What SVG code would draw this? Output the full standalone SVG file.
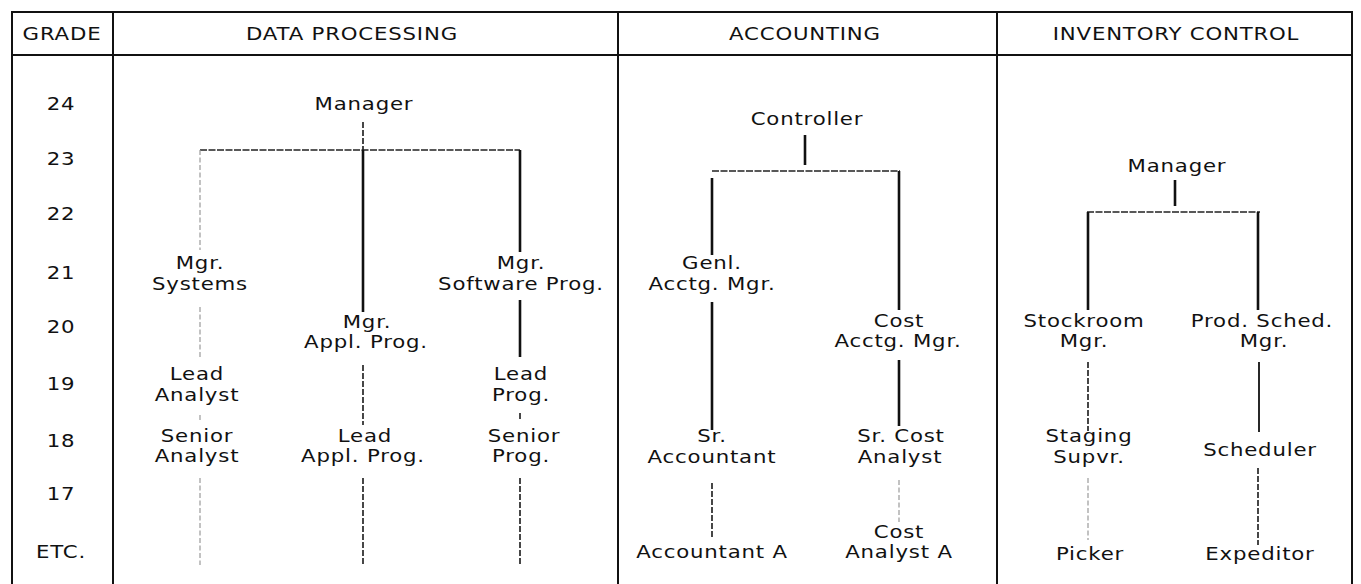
<svg xmlns="http://www.w3.org/2000/svg" width="1361" height="584" viewBox="0 0 1361 584">
<style>
text{font-family:"DejaVu Sans","Liberation Sans",sans-serif;font-size:18.5px;letter-spacing:0.7px;fill:#111;text-anchor:middle}
.frame{stroke:#111;stroke-width:2;fill:none}
.solid{stroke:#111;stroke-width:2.6;fill:none}
.bar{stroke:#222;stroke-width:1.6;stroke-dasharray:7 1.5;fill:none}
.dark{stroke:#333;stroke-width:1.8;stroke-dasharray:6 2;fill:none}
.faint{stroke:#9a9a9a;stroke-width:1.2;stroke-dasharray:5 2.5;fill:none}
</style>
<rect width="1361" height="584" fill="#fff"/>
<g id="frame">
<path class="frame" d="M12,584 V12 H1352 V584 M12,55 H1352 M113,12 V584 M618,12 V584 M997,12 V584"/>
</g>
<g id="headers" transform="scale(1.15 1)">
<text x="53.91" y="40">GRADE</text>
<text x="306.09" y="40">DATA PROCESSING</text>
<text x="700" y="40">ACCOUNTING</text>
<text x="1022.61" y="40">INVENTORY CONTROL</text>
</g>
<g id="grades" transform="scale(1.15 1)">
<text x="53.04" y="110">24</text>
<text x="53.04" y="165">23</text>
<text x="53.04" y="220">22</text>
<text x="53.04" y="279">21</text>
<text x="53.04" y="333">20</text>
<text x="53.04" y="390">19</text>
<text x="53.04" y="447">18</text>
<text x="53.04" y="500">17</text>
<text x="53.04" y="558">ETC.</text>
</g>
<g id="connectors">
<line class="dark" x1="363" y1="122" x2="363" y2="150"/>
<line class="bar" x1="200" y1="150" x2="520" y2="150"/>
<line class="faint" x1="200" y1="150" x2="200" y2="250"/>
<line class="solid" x1="363" y1="150" x2="363" y2="312"/>
<line class="solid" x1="520" y1="150" x2="520" y2="252"/>
<line class="faint" x1="200" y1="307" x2="200" y2="359"/>
<line class="dark" x1="363" y1="365" x2="363" y2="425"/>
<line class="solid" x1="520" y1="300" x2="520" y2="357"/>
<line class="faint" x1="200" y1="415" x2="200" y2="421"/>
<line class="dark" x1="520" y1="413" x2="520" y2="420"/>
<line class="faint" x1="200" y1="478" x2="200" y2="565"/>
<line class="dark" x1="363" y1="478" x2="363" y2="566"/>
<line class="dark" x1="520" y1="478" x2="520" y2="566"/>
<line class="solid" x1="805" y1="135" x2="805" y2="165"/>
<line class="bar" x1="712" y1="171" x2="900" y2="171"/>
<line class="solid" x1="712" y1="178" x2="712" y2="255"/>
<line class="solid" x1="899" y1="171" x2="899" y2="310"/>
<line class="solid" x1="712" y1="302" x2="712" y2="430"/>
<line class="solid" x1="899" y1="360" x2="899" y2="426"/>
<line class="dark" x1="712" y1="483" x2="712" y2="537"/>
<line class="faint" x1="899" y1="480" x2="899" y2="522"/>
<line class="solid" x1="1175" y1="180" x2="1175" y2="206"/>
<line class="bar" x1="1087" y1="212" x2="1260" y2="212"/>
<line class="solid" x1="1088" y1="212" x2="1088" y2="310"/>
<line class="solid" x1="1258" y1="212" x2="1258" y2="310"/>
<line class="dark" x1="1088" y1="362" x2="1088" y2="431"/>
<line class="solid" x1="1259" y1="362" x2="1259" y2="432" style="stroke-width:1.8"/>
<line class="faint" x1="1088" y1="478" x2="1088" y2="540"/>
<line class="dark" x1="1258" y1="468" x2="1258" y2="545"/>
</g>
<g id="dp-manager" transform="scale(1.15 1)"><text x="316.52" y="110">Manager</text></g>
<g id="dp-mgr-systems" transform="scale(1.15 1)"><text x="173.91" y="269">Mgr.</text><text x="173.91" y="290">Systems</text></g>
<g id="dp-mgr-appl-prog" transform="scale(1.15 1)"><text x="319.13" y="328">Mgr.</text><text x="318.26" y="348">Appl. Prog.</text></g>
<g id="dp-mgr-software-prog" transform="scale(1.15 1)"><text x="453.04" y="269">Mgr.</text><text x="453.04" y="290">Software Prog.</text></g>
<g id="dp-lead-analyst" transform="scale(1.15 1)"><text x="171.30" y="380">Lead</text><text x="171.30" y="401">Analyst</text></g>
<g id="dp-lead-prog" transform="scale(1.15 1)"><text x="453.04" y="380">Lead</text><text x="453.04" y="401">Prog.</text></g>
<g id="dp-senior-analyst" transform="scale(1.15 1)"><text x="171.30" y="442">Senior</text><text x="171.30" y="462">Analyst</text></g>
<g id="dp-lead-appl-prog" transform="scale(1.15 1)"><text x="317.39" y="442">Lead</text><text x="315.65" y="462">Appl. Prog.</text></g>
<g id="dp-senior-prog" transform="scale(1.15 1)"><text x="455.65" y="442">Senior</text><text x="453.04" y="462">Prog.</text></g>
<g id="acc-controller" transform="scale(1.15 1)"><text x="701.74" y="125">Controller</text></g>
<g id="acc-genl-acctg-mgr" transform="scale(1.15 1)"><text x="619.13" y="269">Genl.</text><text x="619.13" y="290">Acctg. Mgr.</text></g>
<g id="acc-cost-acctg-mgr" transform="scale(1.15 1)"><text x="781.74" y="327">Cost</text><text x="780.87" y="347">Acctg. Mgr.</text></g>
<g id="acc-sr-accountant" transform="scale(1.15 1)"><text x="619.13" y="442">Sr.</text><text x="619.13" y="463">Accountant</text></g>
<g id="acc-sr-cost-analyst" transform="scale(1.15 1)"><text x="783.48" y="442">Sr. Cost</text><text x="782.61" y="463">Analyst</text></g>
<g id="acc-accountant-a" transform="scale(1.15 1)"><text x="619.13" y="558">Accountant A</text></g>
<g id="acc-cost-analyst-a" transform="scale(1.15 1)"><text x="781.74" y="538">Cost</text><text x="781.74" y="558">Analyst A</text></g>
<g id="inv-manager" transform="scale(1.15 1)"><text x="1023.48" y="172">Manager</text></g>
<g id="inv-stockroom-mgr" transform="scale(1.15 1)"><text x="942.61" y="327">Stockroom</text><text x="942.61" y="347">Mgr.</text></g>
<g id="inv-prod-sched-mgr" transform="scale(1.15 1)"><text x="1097.39" y="327">Prod. Sched.</text><text x="1099.13" y="347">Mgr.</text></g>
<g id="inv-staging-supvr" transform="scale(1.15 1)"><text x="946.96" y="442">Staging</text><text x="946.96" y="463">Supvr.</text></g>
<g id="inv-scheduler" transform="scale(1.15 1)"><text x="1095.65" y="456">Scheduler</text></g>
<g id="inv-picker" transform="scale(1.15 1)"><text x="947.83" y="560">Picker</text></g>
<g id="inv-expeditor" transform="scale(1.15 1)"><text x="1095.65" y="560">Expeditor</text></g>
</svg>
